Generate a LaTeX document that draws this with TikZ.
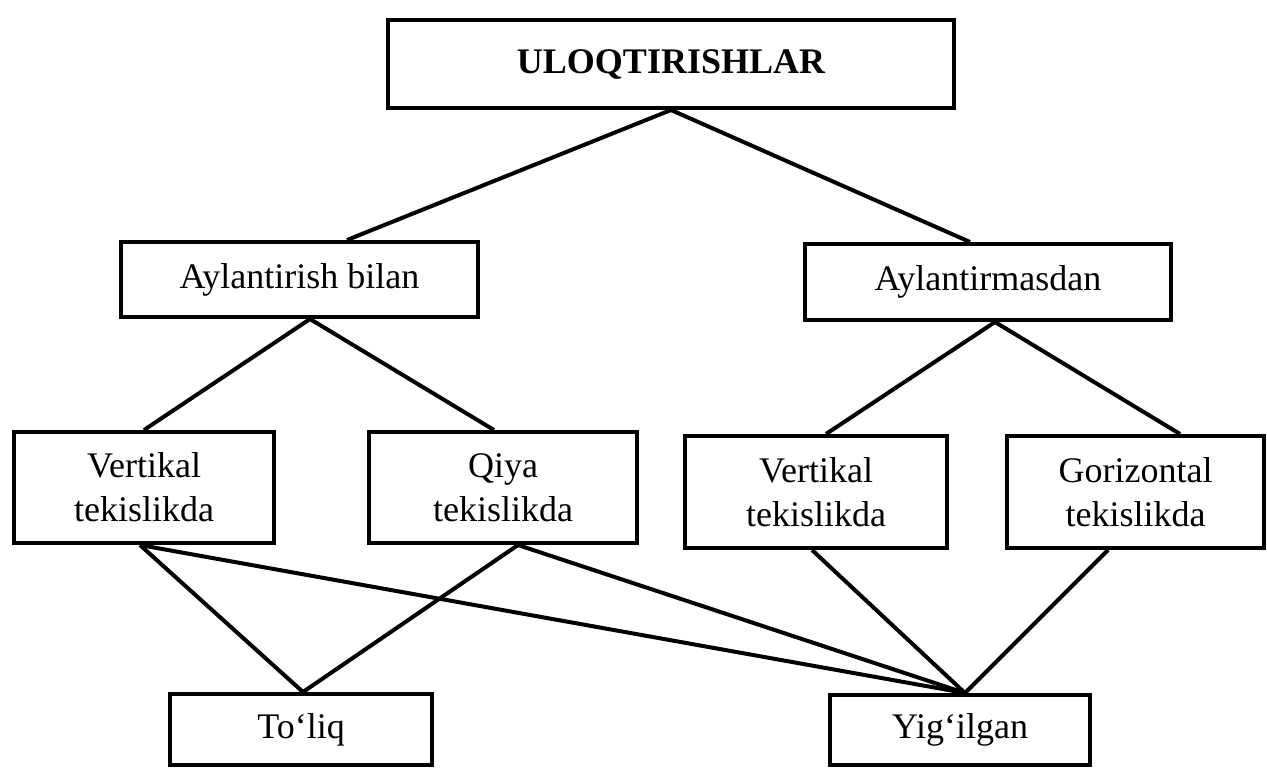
\documentclass[tikz,border=0pt]{standalone}
\usepackage{fontspec}
\setmainfont{Liberation Serif}
\usetikzlibrary{calc}
\begin{document}
\begin{tikzpicture}[x=0.5pt,y=-0.5pt,
  box/.style={draw,line width=2pt,align=center,inner sep=0pt,font=\fontsize{18}{22}\selectfont},
  link/.style={line width=2pt}]
\useasboundingbox (0,0) rectangle (1267,767);
\node[box,minimum width=283pt,minimum height=44pt,font=\bfseries\fontsize{18}{22}\selectfont] (top) at (671,64) {ULOQTIRISHLAR};
\node[box,minimum width=178.5pt,minimum height=37.5pt] (ab) at (299.5,279.5) {Aylantirish bilan};
\node[box,minimum width=183pt,minimum height=38pt] (am) at (988,282) {Aylantirmasdan};
\node[box,minimum width=130pt,minimum height=55.5pt] (v1) at (144,487.5) {Vertikal\\tekislikda};
\node[box,minimum width=134pt,minimum height=55.5pt] (q) at (503,487.5) {Qiya\\tekislikda};
\node[box,minimum width=131pt,minimum height=56pt] (v2) at (816,492) {Vertikal\\tekislikda};
\node[box,minimum width=128.5pt,minimum height=56pt] (g) at (1135.5,492) {Gorizontal\\tekislikda};
\node[box,minimum width=131pt,minimum height=35.5pt] (t) at (301,729.5) {To‘liq};
\node[box,minimum width=130pt,minimum height=35pt] (y) at (960,730) {Yig‘ilgan};
\draw[link] (top.south) -- ([xshift=23.75pt]ab.north);
\draw[link] (top.south) -- ([xshift=-9pt]am.north);
\draw[link] ([xshift=5.25pt]ab.south) -- (v1.north);
\draw[link] ([xshift=5.25pt]ab.south) -- ([xshift=-4.5pt]q.north);
\draw[link] ([xshift=3.5pt]am.south) -- ([xshift=5pt]v2.north);
\draw[link] ([xshift=3.5pt]am.south) -- ([xshift=22.25pt]g.north);
\draw[link] ([xshift=-2pt]v1.south) -- ([xshift=1pt]t.north);
\draw[link] ([xshift=-2pt]v1.south) -- ([xshift=2.5pt]y.north);
\draw[link] ([xshift=7.5pt]q.south) -- ([xshift=1pt]t.north);
\draw[link] ([xshift=7.5pt]q.south) -- ([xshift=2.5pt]y.north);
\draw[link] ([xshift=-2pt]v2.south) -- ([xshift=2.5pt]y.north);
\draw[link] ([xshift=-13.75pt]g.south) -- ([xshift=2.5pt]y.north);
\end{tikzpicture}
\end{document}
